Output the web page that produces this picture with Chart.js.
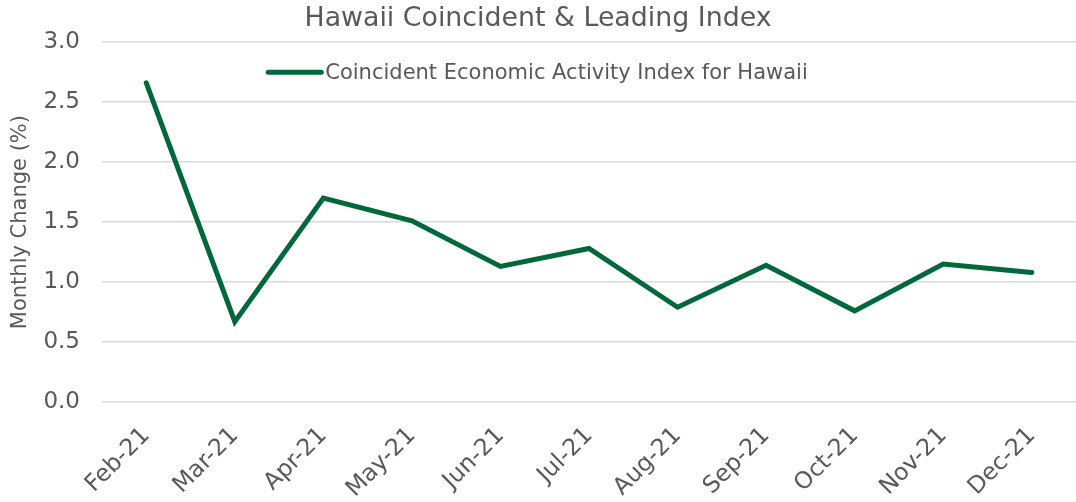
<!DOCTYPE html>
<html>
<head>
<meta charset="utf-8">
<script src="https://cdn.jsdelivr.net/npm/chart.js@4"></script>
<style>
  html, body { margin: 0; padding: 0; background: #fff; }
  #wrap { width: 1076px; height: 502px; }
</style>
</head>
<body>
<div id="wrap"><canvas id="hawaiiChart"></canvas></div>
<script>
const months = ['Feb-21', 'Mar-21', 'Apr-21', 'May-21', 'Jun-21', 'Jul-21', 'Aug-21', 'Sep-21', 'Oct-21', 'Nov-21', 'Dec-21'];
const coincident = [2.66, 0.67, 1.70, 1.51, 1.13, 1.28, 0.79, 1.14, 0.76, 1.15, 1.08];
const yTicks = [0.0, 0.5, 1.0, 1.5, 2.0, 2.5, 3.0];

const green = '#00683A';
const grey = '#595959';

// legend sits inside the plot, near the top, like the original
const insideLegend = {
  id: 'insideLegend',
  afterDatasetsDraw(chart) {
    const c = chart.ctx;
    const ds = chart.data.datasets[0];
    const y = chart.chartArea.top + 30;
    c.save();
    c.font = '21px "DejaVu Sans"';
    const textW = c.measureText(ds.label).width;
    const lineW = 53;
    const gap = 4;
    const x0 = chart.width / 2 - (lineW + gap + textW) / 2;
    c.strokeStyle = ds.borderColor;
    c.lineWidth = 5;
    c.lineCap = 'round';
    c.beginPath();
    c.moveTo(x0, y);
    c.lineTo(x0 + lineW, y);
    c.stroke();
    c.fillStyle = grey;
    c.textBaseline = 'middle';
    c.fillText(ds.label, x0 + lineW + gap, y + 1);
    c.restore();
  }
};

new Chart(document.getElementById('hawaiiChart').getContext('2d'), {
  type: 'line',
  data: {
    labels: months,
    datasets: [{
      label: 'Coincident Economic Activity Index for Hawaii',
      data: coincident,
      borderColor: green,
      backgroundColor: green,
      borderWidth: 5,
      borderCapStyle: 'round',
      pointRadius: 0,
      tension: 0
    }]
  },
  options: {
    responsive: true,
    maintainAspectRatio: false,
    animation: false,
    layout: { padding: { left: 0, right: 0, top: 0, bottom: 0 } },
    plugins: {
      legend: { display: false },
      tooltip: { enabled: false },
      title: {
        display: true,
        text: 'Hawaii Coincident & Leading Index',
        color: grey,
        font: { family: 'DejaVu Sans', size: 26.8, weight: 'normal' },
        padding: { top: 3, bottom: 7 }
      }
    },
    scales: {
      x: {
        offset: true,
        grid: { display: false },
        border: { display: false },
        afterFit(axis) { axis.height = 100; },
        ticks: {
          color: grey,
          font: { family: 'DejaVu Sans', size: 23.5 },
          minRotation: 45,
          maxRotation: 45,
          padding: 12
        }
      },
      y: {
        min: 0,
        max: 3,
        afterBuildTicks(axis) {
          axis.ticks = yTicks.map(v => ({ value: v }));
        },
        afterFit(axis) { axis.width = 102; },
        grid: { color: '#D9D9D9', lineWidth: 1.5, drawTicks: false },
        border: { display: false },
        ticks: {
          color: grey,
          font: { family: 'DejaVu Sans', size: 23 },
          padding: 22,
          callback: v => v.toFixed(1)
        },
        title: {
          display: true,
          text: 'Monthly Change (%)',
          color: grey,
          font: { family: 'DejaVu Sans', size: 21 },
          padding: { top: 8, bottom: 0 }
        }
      }
    }
  },
  plugins: [insideLegend]
});
</script>
</body>
</html>
